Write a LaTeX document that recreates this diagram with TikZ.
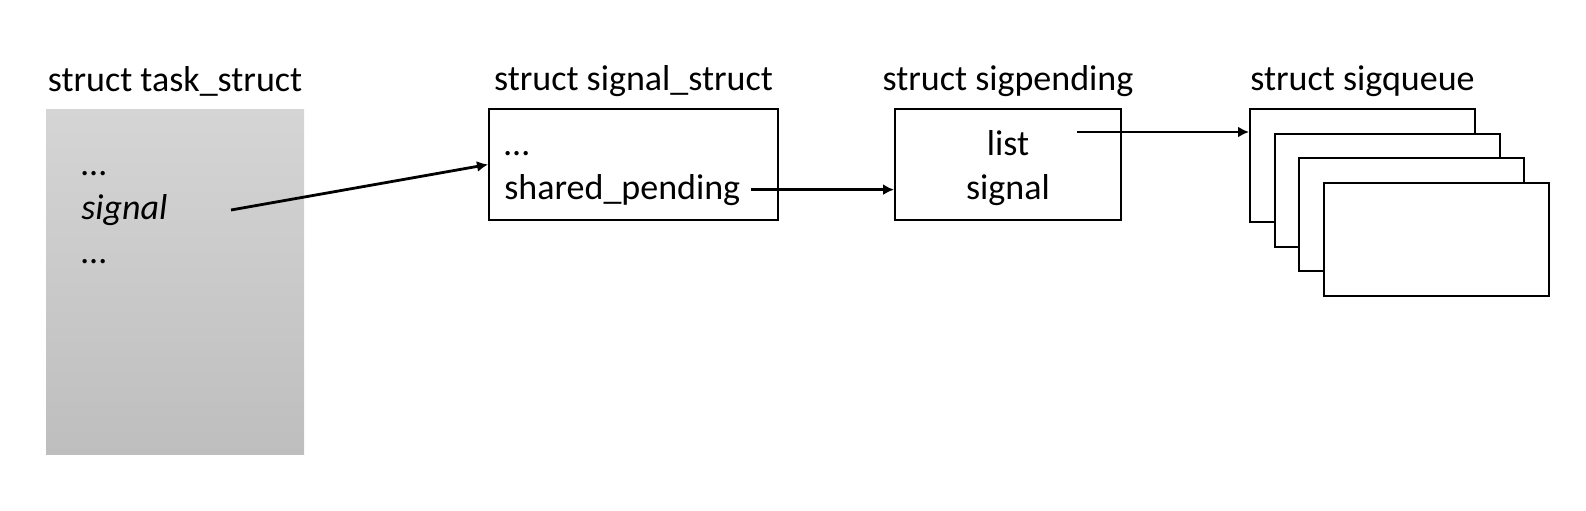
\documentclass[tikz,border=0pt]{standalone}
\usepackage{fontspec}
\setmainfont{Carlito}
\usepackage{tikz}
\usetikzlibrary{arrows.meta,positioning}
\definecolor{tasktop}{HTML}{D5D5D5}
\definecolor{taskbot}{HTML}{BEBEBE}

\begin{document}
\begin{tikzpicture}[
  x=0.5pt, y=-0.5pt,
  font=\fontsize{18}{22}\selectfont,
  box/.style={draw,line width=1pt,fill=white,inner sep=0pt},
  lbl/.style={inner sep=0pt,text height=0.75em,text depth=0.25em},
  fld/.style={inner sep=0pt,anchor=base west},
  arr/.style={-{Latex[length=5.5pt,width=5.5pt]},line width=1.4pt}
]
  \useasboundingbox (0,0) rectangle (1586,510);

  % task_struct
  \node[inner sep=0pt,minimum width=129pt,minimum height=172.5pt,
        top color=tasktop,bottom color=taskbot] (task) at (175,281.5) {};
  \node[lbl,above=6pt of task] (tasklbl) {struct task\_struct};
  \node[fld] (tdots1) at (81,175) {…};
  \node[fld] (tsig) at (81,219) {\itshape signal};
  \node[fld] (tdots2) at (81,263) {…};

  % signal_struct
  \node[box,minimum width=144.5pt,minimum height=55.5pt] (sigstruct) at (633.5,164.5) {};
  \node[lbl,above=6pt of sigstruct] (sigstructlbl) {struct signal\_struct};
  \node[fld] (sdots) at (504,155) {…};
  \node[fld] (shpend) at (504,199) {shared\_pending};

  % sigpending
  \node[box,minimum width=113pt,minimum height=55.5pt] (sigpend) at (1008,164.5) {};
  \node[lbl,above=6pt of sigpend] (sigpendlbl) {struct sigpending};
  \node[inner sep=0pt,anchor=base] (plist) at (1008,155) {list};
  \node[inner sep=0pt,anchor=base] (psig) at (1008,199) {signal};

  % sigqueue stack
  \foreach \i in {0,...,3}
    \node[box,minimum width=112.5pt,minimum height=56.5pt] (q\i)
      at (1362.5+24.5*\i,165.5+24.5*\i) {};
  \node[lbl,above=6pt of q0] (queuelbl) {struct sigqueue};

  \coordinate (sigstart) at (231,210);
  \coordinate (liststart) at (1077,132);
  \draw[arr] (sigstart) -- (sigstruct.west);
  \draw[arr] ([xshift=5pt]shpend.east) -- (shpend.east -| sigpend.west);
  \draw[arr] (liststart) -- (liststart -| q0.west);
\end{tikzpicture}
\end{document}
